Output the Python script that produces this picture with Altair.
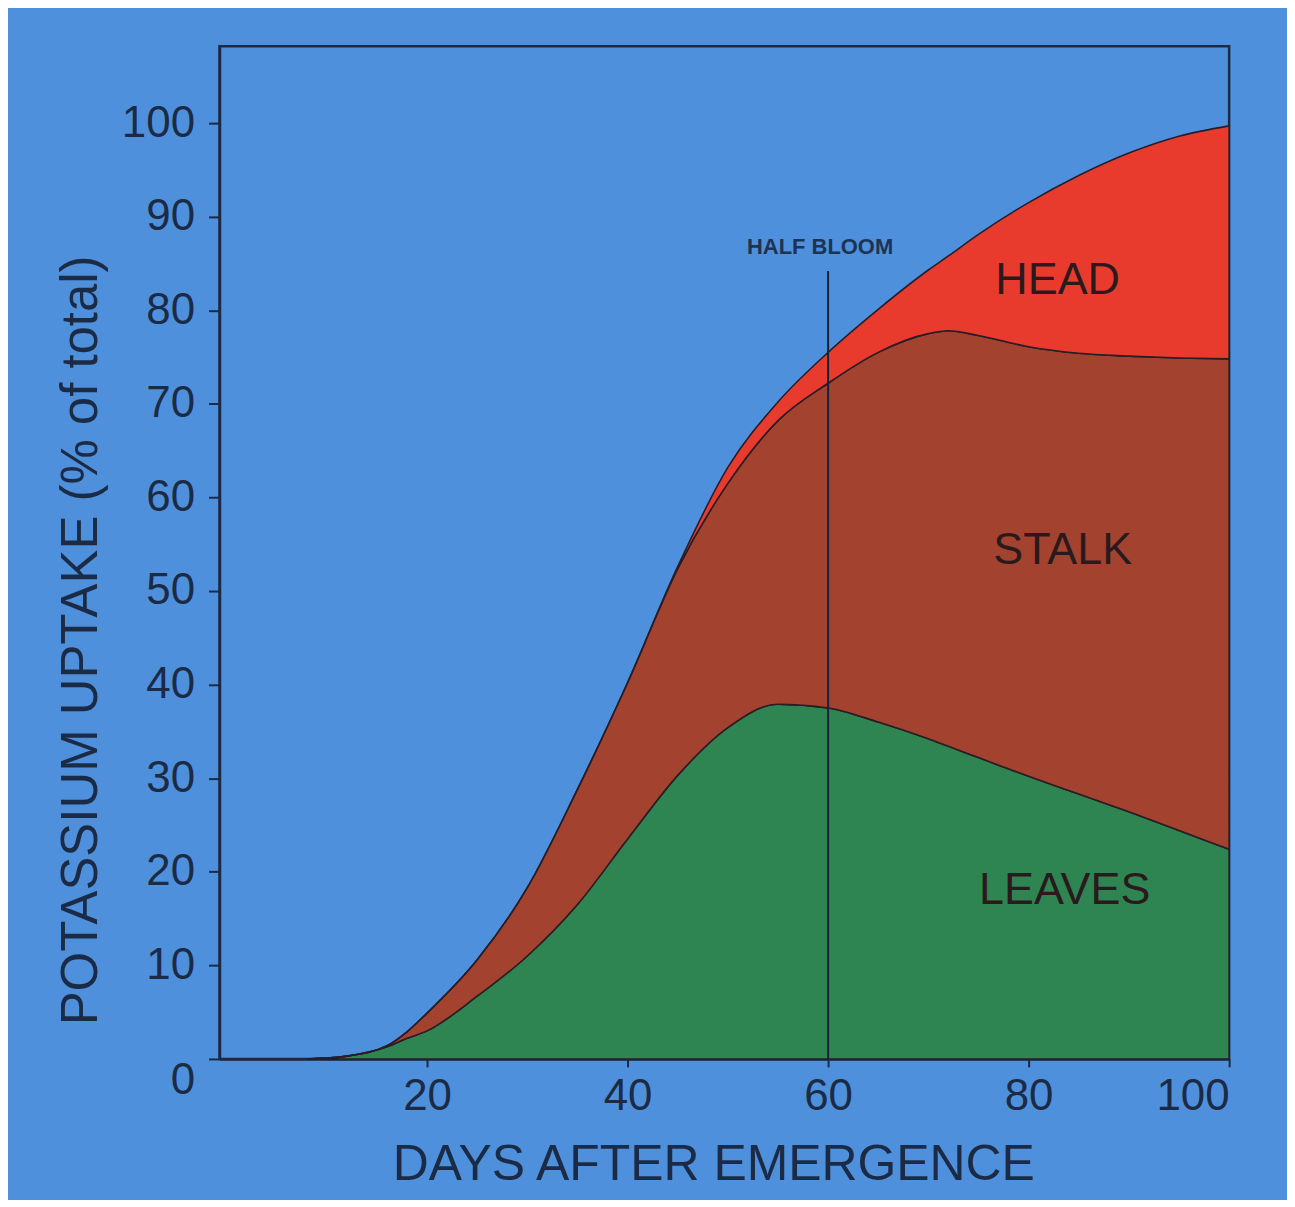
import altair as alt
import pandas as pd

# Days after emergence
days = [8, 12, 16, 18, 20, 25, 30, 35, 40, 45, 50, 55, 60, 65, 70, 72, 75, 80, 85, 90, 95, 100]
# Potassium uptake by plant part (% of total), each part's own share
leaves = [0, 0.3, 1.3, 2.2, 3.0, 6.7, 11.0, 16.5, 23.5, 30.3, 35.4, 37.9, 37.5, 36.0, 34.2, 33.4, 32.2, 30.2, 28.3, 26.4, 24.4, 22.4]
stalk = [0, 0, 0.1, 0.7, 1.9, 3.9, 7.3, 12.3, 16.7, 22.1, 26.1, 30.3, 34.7, 39.5, 43.3, 44.4, 45.1, 45.9, 47.1, 48.7, 50.5, 52.4]
head = [0, 0, 0, 0, 0, 0, 0, 0, 0, 0.2, 1.7, 2.0, 3.3, 4.6, 6.8, 8.0, 10.8, 15.4, 19.0, 21.7, 23.7, 24.9]

parts = ["LEAVES", "STALK", "HEAD"]
part_colors = ["#2f8552", "#a3432f", "#e83b2e"]

half_bloom_day = 60
half_bloom_top = 84.2

# Label positions (day, value)
label_days = [82.9, 83.4, 83.6]
label_vals = [83.2, 54.4, 18.1]

rows = []
for i, d in enumerate(days):
    for k, (p, series) in enumerate(zip(parts, [leaves, stalk, head])):
        rows.append({"day": d, "part": p, "value": series[i], "order": k})
df = pd.DataFrame(rows)

INK = "#1b2b45"
BG = "#4f90dc"

xscale = alt.Scale(domain=[-0.7, 100], nice=False, zero=False)
yscale = alt.Scale(domain=[0, 108.2], nice=False)

areas = alt.Chart(df).mark_area(
    interpolate="monotone", stroke="#2a1d26", strokeWidth=1.6, opacity=1
).encode(
    x=alt.X("day:Q", scale=xscale,
            axis=alt.Axis(values=[20, 40, 60, 80, 100], title="DAYS AFTER EMERGENCE",
                          grid=False, tickSize=8, tickWidth=2, tickColor=INK,
                          domainColor=INK, domainWidth=2.5,
                          labelFontSize=44, labelFont="Liberation Sans", labelColor=INK,
                          labelPadding=8,
                          titleFontSize=50, titleFont="Liberation Sans", titleFontWeight="normal",
                          titleColor=INK, titleX=495, titleY=106, titleBaseline="middle",
                          titleAlign="center")),
    y=alt.Y("value:Q", stack="zero", scale=yscale,
            axis=alt.Axis(values=list(range(0, 101, 10)), title="POTASSIUM UPTAKE (% of total)",
                          grid=False, tickSize=11, tickWidth=2, tickColor=INK,
                          domainColor=INK, domainWidth=2.5,
                          labelFontSize=44, labelFont="Liberation Sans", labelColor=INK,
                          labelPadding=14,
                          labelOffset={"condition": {"test": "datum.value == 0", "value": 22}, "value": 0},
                          titleFontSize=51, titleFont="Liberation Sans", titleFontWeight="normal",
                          titleColor=INK, titleAngle=-90, titleX=-138, titleY=595,
                          titleBaseline="middle", titleAlign="center")),
    color=alt.Color("part:N", scale=alt.Scale(domain=parts, range=part_colors), legend=None),
    order=alt.Order("order:Q"),
)

bloom_df = pd.DataFrame({"day": [half_bloom_day], "y0": [0], "y1": [half_bloom_top],
                         "ty": [86.8], "tx": [59.2], "label": ["HALF BLOOM"]})

rule = alt.Chart(bloom_df).mark_rule(color="#15233a", strokeWidth=2).encode(
    x=alt.X("day:Q", scale=xscale), y=alt.Y("y0:Q", scale=yscale), y2="y1:Q"
)

bloom_text = alt.Chart(bloom_df).mark_text(
    font="Liberation Sans", fontSize=22, fontWeight="bold", color="#1d3354",
    align="center", baseline="middle"
).encode(x=alt.X("tx:Q", scale=xscale), y=alt.Y("ty:Q", scale=yscale), text="label:N")

lab_df = pd.DataFrame({"day": label_days, "value": label_vals, "label": parts[::-1]})
labels = alt.Chart(lab_df).mark_text(
    font="Liberation Sans", fontSize=45, color="#2b1a1d", align="center", baseline="middle"
).encode(x=alt.X("day:Q", scale=xscale), y=alt.Y("value:Q", scale=yscale), text="label:N")

chart = alt.layer(areas, rule, bloom_text, labels).properties(
    width=1012, height=1015,
    padding={"left": 212, "top": 37, "right": 58, "bottom": 140},
    autosize=alt.AutoSizeParams(type="none"),
    background=BG,
).configure_view(stroke=INK, strokeWidth=2.5)

chart.save("out.html", embed_options={"renderer": "svg", "actions": False})
